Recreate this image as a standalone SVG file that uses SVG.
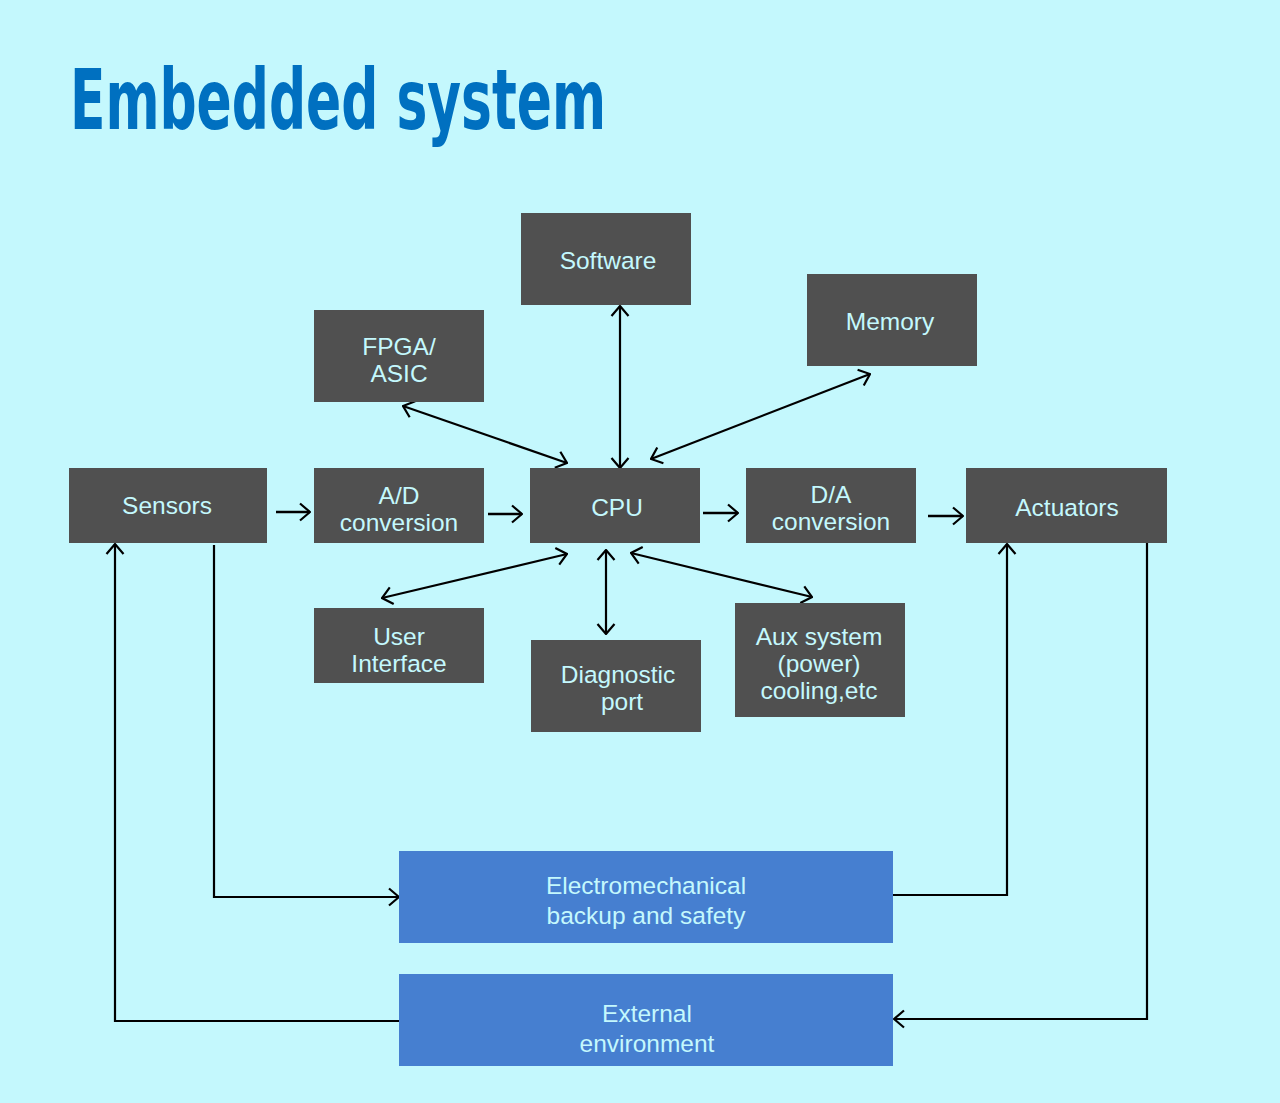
<svg xmlns="http://www.w3.org/2000/svg" width="1280" height="1103" viewBox="0 0 1280 1103">
<defs>
<style>
.bg{fill:#C4F8FD}
.box{fill:#505050}
.blue{fill:#467FD0}
.t{font-family:"Liberation Sans",Arial,sans-serif;font-size:24.5px;fill:#C4F8FD;text-anchor:middle}
.title{font-family:"Liberation Sans Narrow","DejaVu Sans Condensed","Liberation Sans",sans-serif;font-weight:bold;font-size:84px;fill:#0070C0}
.c{fill:none;stroke:#000;stroke-width:2.2}
.c2{fill:none;stroke:#000;stroke-width:2.6}
</style>
<marker id="ah" viewBox="0 0 12 20" refX="11" refY="10" markerWidth="12" markerHeight="20" markerUnits="userSpaceOnUse" orient="auto-start-reverse">
<path d="M1,1.5 L11,10 L1,18.5" fill="none" stroke="#000" stroke-width="2.2"/>
</marker>
</defs>
<rect class="bg" x="0" y="0" width="1280" height="1103"/>
<text class="title" x="70" y="129" textLength="536" lengthAdjust="spacingAndGlyphs">Embedded system</text>

<g id="connectors">
<path class="c2" d="M276,512 L310,512" marker-end="url(#ah)"/>
<path class="c2" d="M488,514 L522,514" marker-end="url(#ah)"/>
<path class="c2" d="M703,513 L738,513" marker-end="url(#ah)"/>
<path class="c2" d="M928,516 L963,516" marker-end="url(#ah)"/>
<path class="c" d="M620,306 L620,468" marker-start="url(#ah)" marker-end="url(#ah)"/>
<path class="c" d="M403,406 L567,463" marker-start="url(#ah)" marker-end="url(#ah)"/>
<path class="c" d="M870,374 L651,459" marker-start="url(#ah)" marker-end="url(#ah)"/>
<path class="c" d="M382,598 L567,554" marker-start="url(#ah)" marker-end="url(#ah)"/>
<path class="c" d="M606,550 L606,634" marker-start="url(#ah)" marker-end="url(#ah)"/>
<path class="c" d="M631,553 L812,597" marker-start="url(#ah)" marker-end="url(#ah)"/>
<path class="c" d="M214,545 L214,897 L399,897" marker-end="url(#ah)"/>
<path class="c" d="M893,895 L1007,895 L1007,544" marker-end="url(#ah)"/>
<path class="c" d="M1147,543 L1147,1019 L894,1019" marker-end="url(#ah)"/>
<path class="c" d="M399,1021 L115,1021 L115,544" marker-end="url(#ah)"/>
</g>

<g id="software"><rect class="box" x="521" y="213" width="170" height="92"/><text class="t" x="608" y="269">Software</text></g>
<g id="memory"><rect class="box" x="807" y="274" width="170" height="92"/><text class="t" x="890" y="330">Memory</text></g>
<g id="fpga"><rect class="box" x="314" y="310" width="170" height="92"/><text class="t" x="399" y="355">FPGA/</text><text class="t" x="399" y="382">ASIC</text></g>
<g id="sensors"><rect class="box" x="69" y="468" width="198" height="75"/><text class="t" x="167" y="514">Sensors</text></g>
<g id="ad"><rect class="box" x="314" y="468" width="170" height="75"/><text class="t" x="399" y="504">A/D</text><text class="t" x="399" y="531">conversion</text></g>
<g id="cpu"><rect class="box" x="530" y="468" width="170" height="75"/><text class="t" x="617" y="516">CPU</text></g>
<g id="da"><rect class="box" x="746" y="468" width="170" height="75"/><text class="t" x="831" y="503">D/A</text><text class="t" x="831" y="530">conversion</text></g>
<g id="actuators"><rect class="box" x="966" y="468" width="201" height="75"/><text class="t" x="1067" y="516">Actuators</text></g>
<g id="ui"><rect class="box" x="314" y="608" width="170" height="75"/><text class="t" x="399" y="645">User</text><text class="t" x="399" y="672">Interface</text></g>
<g id="diag"><rect class="box" x="531" y="640" width="170" height="92"/><text class="t" x="618" y="683">Diagnostic</text><text class="t" x="622" y="710">port</text></g>
<g id="aux"><rect class="box" x="735" y="603" width="170" height="114"/><text class="t" x="819" y="645">Aux system</text><text class="t" x="819" y="672">(power)</text><text class="t" x="819" y="699">cooling,etc</text></g>
<g id="electro"><rect class="blue" x="399" y="851" width="494" height="92"/><text class="t" x="646" y="894">Electromechanical</text><text class="t" x="646" y="924">backup and safety</text></g>
<g id="external"><rect class="blue" x="399" y="974" width="494" height="92"/><text class="t" x="647" y="1022">External</text><text class="t" x="647" y="1052">environment</text></g>
</svg>
